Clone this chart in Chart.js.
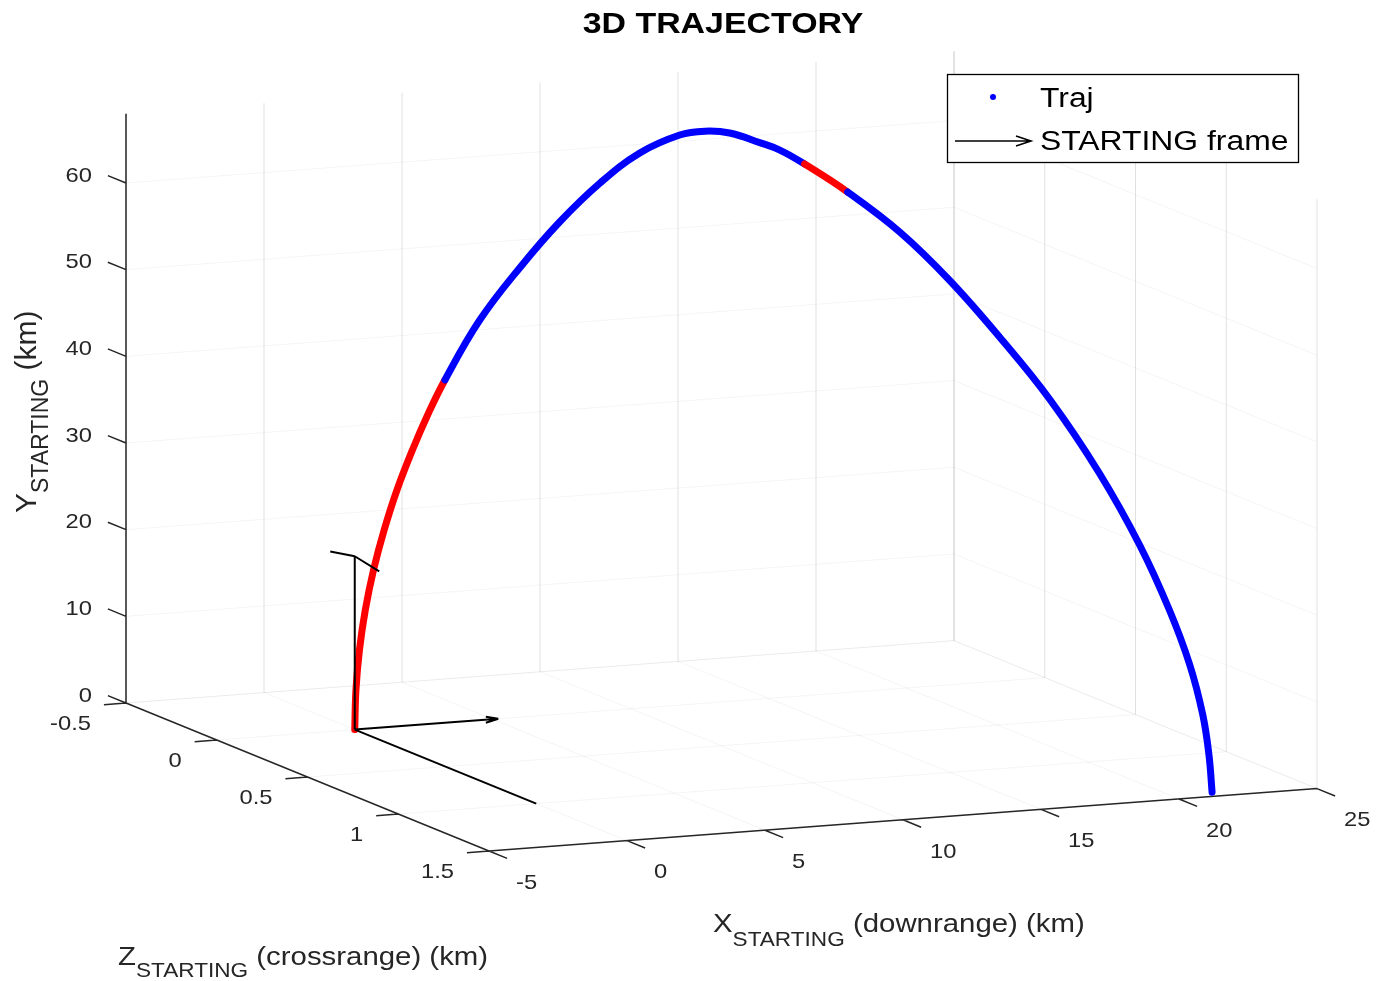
<!DOCTYPE html>
<html lang="en">
<head>
<meta charset="UTF-8">
<title>3D Trajectory</title>
<script src="https://cdn.jsdelivr.net/npm/chart.js@4.4.1/dist/chart.umd.min.js"></script>
<style>
    html, body { margin: 0; padding: 0; background: #fff; }
    #wrap { width: 1395px; height: 981px; }
</style>
</head>
<body>
<div id="wrap"><canvas id="traj" width="1395" height="981"></canvas></div>
<script>
// Axis limits and ticks (km)
const xLim = [-5, 25];      // downrange
const yLim = [0, 68];       // altitude
const zLim = [-0.5, 1.5];   // crossrange
const xTicks = [-5, 0, 5, 10, 15, 20, 25];
const yTicks = [0, 10, 20, 30, 40, 50, 60];
const zTicks = [-0.5, 0, 0.5, 1, 1.5];
const xTickLabels = ['-5', '0', '5', '10', '15', '20', '25'];
const yTickLabels = ['0', '10', '20', '30', '40', '50', '60'];
const zTickLabels = ['-0.5', '0', '0.5', '1', '1.5'];

// Trajectory samples (km)
const trajX = [0, 0.043, 0.17, 0.383, 0.68, 1.065, 1.53, 2.09, 2.64, 3.26,
    4.51, 5.93, 7.29, 8.62, 9.88, 11.07, 11.78, 12.45, 13.23, 13.73,
    14.32, 15.29, 16.37, 17.32, 18.20, 19.03, 19.78, 20.36, 20.77, 21.04,
    21.21, 21.29, 21.33];
const trajY = [0, 4.56, 9.14, 13.71, 18.25, 22.77, 27.28, 31.76, 35.67, 39.57,
    46.2, 51.98, 56.99, 61.33, 64.74, 66.86, 67.4, 67.32, 66.42, 65.74,
    64.39, 61.69, 57.86, 53.18, 47.63, 41.47, 34.2, 26.88, 20.17, 14.4,
    8.97, 4.49, 0.3];
const trajZ = [0, 0, 0, 0, 0, 0, 0, 0, 0, 0.001,
    0.003, 0.009, 0.020, 0.040, 0.068, 0.107, 0.138, 0.172, 0.219, 0.254,
    0.301, 0.391, 0.514, 0.643, 0.785, 0.938, 1.094, 1.229, 1.330, 1.401,
    1.447, 1.469, 1.480];
// 1 = red part of the trajectory (segment starting at that sample)
const trajPhase = [1, 1, 1, 1, 1, 1, 1, 1, 1, 0,
    0, 0, 0, 0, 0, 0, 0, 0, 0, 0,
    1, 0, 0, 0, 0, 0, 0, 0, 0, 0,
    0, 0, 0];

// STARTING frame (quiver) at the launch point
const frameOrigin = [0, 0, 0];
const frameVecs = [[5.2, 0, 0], [0, 20, 0], [0, 0, 1]];
// arrowhead barbs, offsets from each tip
const frameHeads = [
    [[-0.45, 0.35, 0], [-0.45, -0.35, 0]],
    [[0, -0.6, -0.135], [0, -0.6, 0.135]],
    []
];

// View: screen position of the (xmin, ymin, zmin) corner and step per km on each axis
const view = { u0: 126, v0: 703, ex: [27.6, -2.08], ey: [0, -8.667], ez: [181.5, 74] };
const W = 1395, H = 981;
const BLUE = '#0000ff', RED = '#ff0000', INK = '#262626';
const FONT = "'Liberation Sans', Arial, Helvetica, sans-serif";
const SX = 1.13; // the figure text is a bit wider than normal

function proj(x, y, z) {
    const a = x - xLim[0], b = y - yLim[0], c = z - zLim[0];
    return {
        x: view.u0 + a * view.ex[0] + b * view.ey[0] + c * view.ez[0],
        y: view.v0 + a * view.ex[1] + b * view.ey[1] + c * view.ez[1]
    };
}

// a list of 3D segments -> one dataset data array with gaps
function segData(segs) {
    const out = [];
    segs.forEach(s => {
        s.forEach(p => out.push(proj(p[0], p[1], p[2])));
        out.push({ x: null, y: null });
    });
    return out;
}

const [x0, x1] = xLim, [y0, y1] = yLim, [z0, z1] = zLim;

// grid: vertical lines on the back wall (z=zmin) and right wall (x=xmax),
// horizontal lines on those walls and on the floor (y=0)
const gridVSegs = [], gridHSegs = [];
xTicks.forEach(x => {
    gridVSegs.push([[x, y0, z0], [x, y1, z0]]);
    gridHSegs.push([[x, y0, z0], [x, y0, z1]]);
});
zTicks.forEach(z => {
    gridVSegs.push([[x1, y0, z], [x1, y1, z]]);
    gridHSegs.push([[x0, y0, z], [x1, y0, z]]);
});
yTicks.forEach(y => {
    gridHSegs.push([[x0, y, z0], [x1, y, z0]]);
    gridHSegs.push([[x1, y, z0], [x1, y, z1]]);
});

// axes and tick marks
const axisSegs = [
    [[x0, y0, z0], [x0, y1, z0]],
    [[x0, y0, z0], [x0, y0, z1]],
    [[x0, y0, z1], [x1, y0, z1]]
];
yTicks.forEach(y => axisSegs.push([[x0, y, z0], [x0, y, z0 - 0.1]]));
zTicks.forEach(z => axisSegs.push([[x0, y0, z], [x0 - 0.8, y0, z]]));
xTicks.forEach(x => axisSegs.push([[x, y0, z1], [x, y0, z1 + 0.1]]));

// quiver arrows
const frameSegs = [];
frameVecs.forEach((v, i) => {
    const o = frameOrigin;
    const tip = [o[0] + v[0], o[1] + v[1], o[2] + v[2]];
    frameSegs.push([o, tip]);
    frameHeads[i].forEach(h => frameSegs.push([tip, [tip[0] + h[0], tip[1] + h[1], tip[2] + h[2]]]));
});

const trajData = trajX.map((x, i) => proj(x, trajY[i], trajZ[i]));

function drawText(ctx, str, x, y, size, align, weight, sx) {
    ctx.save();
    ctx.translate(x, y);
    ctx.scale(sx || SX, 1);
    ctx.font = (weight || 'normal') + ' ' + size + 'px ' + FONT;
    ctx.textAlign = align;
    ctx.textBaseline = 'middle';
    ctx.fillText(str, 0, 0);
    ctx.restore();
}

// text with subscript, drawn left to right from (x, y)
function drawRich(ctx, parts, x, y, sx) {
    let cx = 0;
    ctx.save();
    ctx.translate(x, y);
    ctx.scale(sx, 1);
    ctx.textAlign = 'left';
    ctx.textBaseline = 'middle';
    parts.forEach(p => {
        ctx.font = p.size + 'px ' + FONT;
        ctx.fillText(p.t, cx, p.dy);
        cx += ctx.measureText(p.t).width;
    });
    ctx.restore();
}

const textPlugin = {
    id: 'labels3d',
    afterDraw(chart) {
        const ctx = chart.ctx;
        const sx = chart.scales.x, sy = chart.scales.y;
        const px = p => ({ x: sx.getPixelForValue(p.x), y: sy.getPixelForValue(p.y) });
        ctx.fillStyle = INK;

        yTicks.forEach((y, i) => {
            const p = px(proj(x0, y, z0));
            drawText(ctx, yTickLabels[i], p.x - 34, p.y - 7, 21, 'right');
        });
        zTicks.forEach((z, i) => {
            const p = px(proj(x0, y0, z));
            drawText(ctx, zTickLabels[i], p.x - 35, p.y + 21, 21, 'right');
        });
        xTicks.forEach((x, i) => {
            const p = px(proj(x, y0, z1));
            drawText(ctx, xTickLabels[i], p.x + 27, p.y + 32, 21, 'left');
        });

        // axis labels
        drawRich(ctx, [
            { t: 'X', size: 26, dy: 0 },
            { t: 'STARTING', size: 20, dy: 15 },
            { t: ' (downrange) (km)', size: 26, dy: 0 }
        ], 713, 925, SX);
        drawRich(ctx, [
            { t: 'Z', size: 26, dy: 0 },
            { t: 'STARTING', size: 20, dy: 13 },
            { t: ' (crossrange) (km)', size: 26, dy: 0 }
        ], 118, 958, SX);
        ctx.save();
        ctx.translate(28, 513);
        ctx.rotate(-Math.PI / 2);
        drawRich(ctx, [
            { t: 'Y', size: 30, dy: 0 },
            { t: 'STARTING', size: 23, dy: 14 },
            { t: ' (km)', size: 30, dy: 0 }
        ], 0, 0, 1);
        ctx.restore();

        // title
        ctx.fillStyle = '#000';
        drawText(ctx, '3D TRAJECTORY', 723, 25, 30, 'center', 'bold');

        // legend
        ctx.save();
        ctx.fillStyle = '#fff';
        ctx.fillRect(947, 74, 351, 88);
        ctx.strokeStyle = '#000';
        ctx.lineWidth = 1.3;
        ctx.strokeRect(947.5, 74.5, 351, 88);
        ctx.fillStyle = BLUE;
        ctx.beginPath();
        ctx.arc(993, 97, 3, 0, Math.PI * 2);
        ctx.fill();
        ctx.strokeStyle = '#000';
        ctx.lineWidth = 1.6;
        ctx.beginPath();
        ctx.moveTo(955, 141); ctx.lineTo(1031, 141);
        ctx.moveTo(1016, 136); ctx.lineTo(1031, 141); ctx.lineTo(1016, 146);
        ctx.stroke();
        ctx.fillStyle = '#000';
        drawText(ctx, 'Traj', 1040, 100, 27, 'left', 'normal', 1.18);
        drawText(ctx, 'STARTING frame', 1040, 143, 27, 'left', 'normal', 1.18);
        ctx.restore();
    }
};

const lineBase = { showLine: true, pointRadius: 0, spanGaps: false, fill: false, tension: 0 };

new Chart(document.getElementById('traj'), {
    type: 'scatter',
    data: {
        datasets: [
            Object.assign({}, lineBase, {
                label: 'STARTING frame', data: segData(frameSegs),
                borderColor: '#000', borderWidth: 2, order: 0
            }),
            Object.assign({}, lineBase, {
                label: 'Traj', data: trajData, borderWidth: 7, tension: 0.4,
                borderColor: BLUE, borderCapStyle: 'round', order: 1,
                segment: { borderColor: c => trajPhase[c.p0DataIndex] ? RED : BLUE }
            }),
            Object.assign({}, lineBase, {
                label: 'axes', data: segData(axisSegs),
                borderColor: INK, borderWidth: 1.5, order: 2
            }),
            Object.assign({}, lineBase, {
                label: 'grid', data: segData(gridVSegs),
                borderColor: 'rgba(0,0,0,0.12)', borderWidth: 1, order: 3
            }),
            Object.assign({}, lineBase, {
                label: 'grid-h', data: segData(gridHSegs),
                borderColor: 'rgba(0,0,0,0.045)', borderWidth: 1, order: 4
            })
        ]
    },
    options: {
        responsive: false,
        animation: false,
        events: [],
        layout: { padding: 0 },
        plugins: { legend: { display: false }, tooltip: { enabled: false }, title: { display: false } },
        scales: {
            x: { type: 'linear', min: 0, max: W, display: false },
            y: { type: 'linear', min: 0, max: H, reverse: true, display: false }
        }
    },
    plugins: [textPlugin]
});
</script>
</body>
</html>
